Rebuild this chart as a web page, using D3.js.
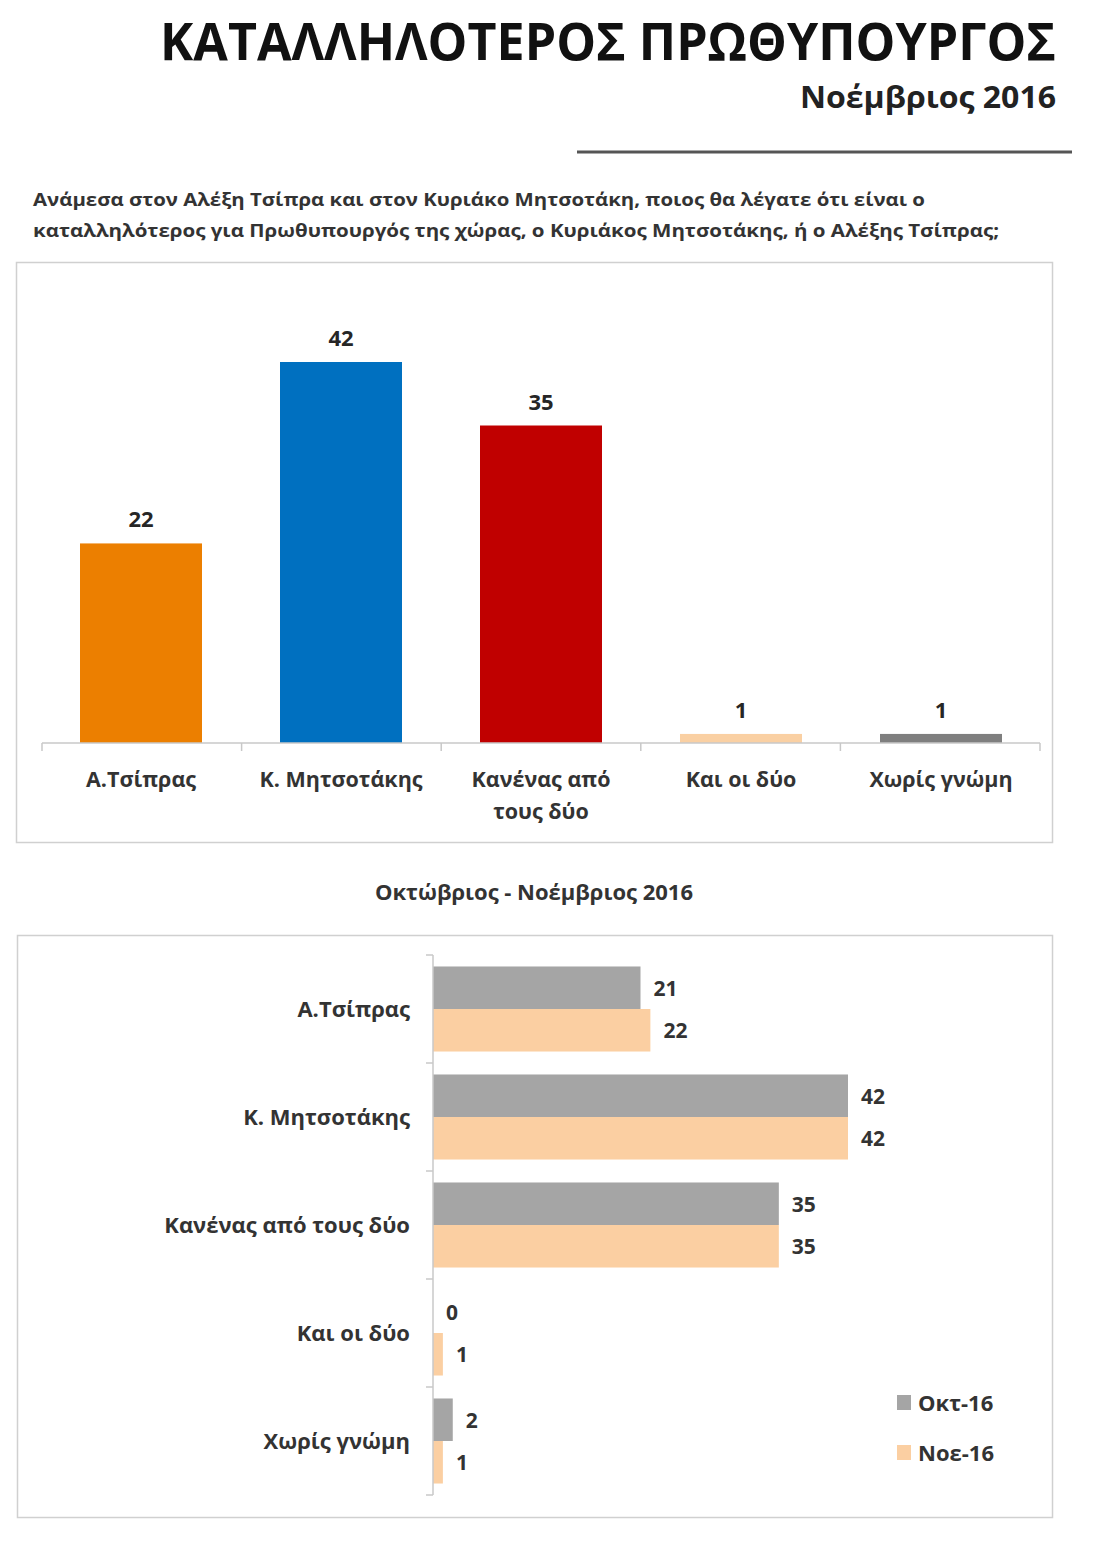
<!DOCTYPE html>
<html><head><meta charset="utf-8">
<script src="https://cdn.jsdelivr.net/npm/d3@7"></script>
<style>body{margin:0;background:#fff}svg{display:block}text{font-family:"Open Sans","Noto Sans",sans-serif;font-weight:bold;fill:#262626}</style>
</head><body>
<script>
const title = "ΚΑΤΑΛΛΗΛΟΤΕΡΟΣ ΠΡΩΘΥΠΟΥΡΓΟΣ";
const subtitle = "Νοέμβριος 2016";
const question = ["Ανάμεσα στον Αλέξη Τσίπρα και στον Κυριάκο Μητσοτάκη, ποιος θα λέγατε ότι είναι ο",
                  "καταλληλότερος για Πρωθυπουργός της χώρας, ο Κυριάκος Μητσοτάκης, ή ο Αλέξης Τσίπρας;"];
const categories = ["Α.Τσίπρας","Κ. Μητσοτάκης","Κανένας από τους δύο","Και οι δύο","Χωρίς γνώμη"];
const catLines1 = [["Α.Τσίπρας"],["Κ. Μητσοτάκης"],["Κανένας από","τους δύο"],["Και οι δύο"],["Χωρίς γνώμη"]];
const novValues = [22,42,35,1,1];
const barColors = ["#EC7F00","#0070C0","#C00000","#FAD0A3","#7F7F7F"];
const chart2Title = "Οκτώβριος - Νοέμβριος 2016";
const series = ["Οκτ-16","Νοε-16"];
const octValues = [21,42,35,0,2];
const nov2Values = [22,42,35,1,1];
const seriesColors = ["#A5A5A5","#FBCFA2"];

const svg = d3.select("body").append("svg").attr("width",1100).attr("height",1541);

// header
svg.append("text").attr("x",1056).attr("y",60).attr("text-anchor","end")
  .attr("font-size",52).attr("textLength",896).attr("lengthAdjust","spacingAndGlyphs").style("fill","#111").text(title);
svg.append("text").attr("x",1056).attr("y",108).attr("text-anchor","end")
  .attr("font-size",30).attr("textLength",256).attr("lengthAdjust","spacingAndGlyphs").style("fill","#222").text(subtitle);
svg.append("line").attr("x1",577).attr("x2",1072).attr("y1",152).attr("y2",152).attr("stroke","#555").attr("stroke-width",3);
const qLens=[892,966];
question.forEach((q,i)=>svg.append("text").attr("x",33).attr("y",206+i*31).attr("font-size",17)
  .attr("textLength",qLens[i]).attr("lengthAdjust","spacingAndGlyphs").style("fill","#333").text(q));

// chart 1
svg.append("rect").attr("x",16.5).attr("y",262.5).attr("width",1036).attr("height",580).attr("fill","none").attr("stroke","#d0d0d0").attr("stroke-width",1.5);
const x1 = d3.scaleBand().domain(categories).range([42,1040]).paddingInner(0.39).paddingOuter(0.19);
const y1 = d3.scaleLinear().domain([0,42]).range([743,362]);
const g1 = svg.append("g");
g1.selectAll("rect.bar").data(novValues).join("rect").attr("class","bar")
  .attr("x",(d,i)=>x1(categories[i])).attr("width",x1.bandwidth())
  .attr("y",d=>y1(d)).attr("height",d=>y1(0)-y1(d)).attr("fill",(d,i)=>barColors[i]);
g1.selectAll("text.val").data(novValues).join("text").attr("class","val")
  .attr("x",(d,i)=>x1(categories[i])+x1.bandwidth()/2).attr("y",d=>y1(d)-16)
  .attr("text-anchor","middle").attr("font-size",22).text(d=>d);
// axis
g1.append("line").attr("x1",42).attr("x2",1040).attr("y1",743).attr("y2",743).attr("stroke","#c8c8c8").attr("stroke-width",1.5);
d3.range(6).forEach(k=>{
  const xx = 42+k*(998/5);
  g1.append("line").attr("x1",xx).attr("x2",xx).attr("y1",743).attr("y2",751).attr("stroke","#c8c8c8").attr("stroke-width",1.5);
});
catLines1.forEach((lines,i)=>{
  lines.forEach((l,j)=>g1.append("text").attr("x",x1(categories[i])+x1.bandwidth()/2).attr("y",787+j*32)
    .attr("text-anchor","middle").attr("font-size",21.5).style("fill","#333").text(l));
});

// chart 2
svg.append("text").attr("x",534).attr("y",900).attr("text-anchor","middle").attr("font-size",22).style("fill","#333").text(chart2Title);
svg.append("rect").attr("x",17.5).attr("y",935.5).attr("width",1035).attr("height",582).attr("fill","none").attr("stroke","#d0d0d0").attr("stroke-width",1.5);
const y2 = d3.scaleBand().domain(categories).range([955,1495]);
const yInner = d3.scaleBand().domain(series).range([0,y2.bandwidth()]).paddingOuter(0.27).paddingInner(0);
const x2 = d3.scaleLinear().domain([0,42]).range([433,848]);
const g2 = svg.append("g");
const seriesData = [octValues,nov2Values];
seriesData.forEach((vals,s)=>{
  g2.selectAll("rect.s"+s).data(vals).join("rect").attr("class","s"+s)
    .attr("x",x2(0)).attr("y",(d,i)=>y2(categories[i])+yInner(series[s]))
    .attr("width",d=>x2(d)-x2(0)).attr("height",yInner.bandwidth()).attr("fill",seriesColors[s]);
  g2.selectAll("text.v"+s).data(vals).join("text").attr("class","v"+s)
    .attr("x",d=>x2(d)+13).attr("y",(d,i)=>y2(categories[i])+yInner(series[s])+yInner.bandwidth()/2+8)
    .attr("font-size",21).style("fill","#333").text(d=>d);
});
g2.append("line").attr("x1",433).attr("x2",433).attr("y1",955).attr("y2",1495).attr("stroke","#c8c8c8").attr("stroke-width",1.5);
d3.range(6).forEach(k=>{
  const yy = 955+k*y2.step();
  g2.append("line").attr("x1",426).attr("x2",433).attr("y1",yy).attr("y2",yy).attr("stroke","#c8c8c8").attr("stroke-width",1.5);
});
categories.forEach(c=>g2.append("text").attr("x",410).attr("y",y2(c)+y2.bandwidth()/2+8)
  .attr("text-anchor","end").attr("font-size",22).style("fill","#333").text(c));
// legend
series.forEach((s,i)=>{
  const ly = 1403+i*50;
  svg.append("rect").attr("x",897).attr("y",ly-8).attr("width",14).attr("height",15).attr("fill",seriesColors[i]);
  svg.append("text").attr("x",918).attr("y",ly+8).attr("font-size",22).style("fill","#333").text(s);
});
</script>
</body></html>
